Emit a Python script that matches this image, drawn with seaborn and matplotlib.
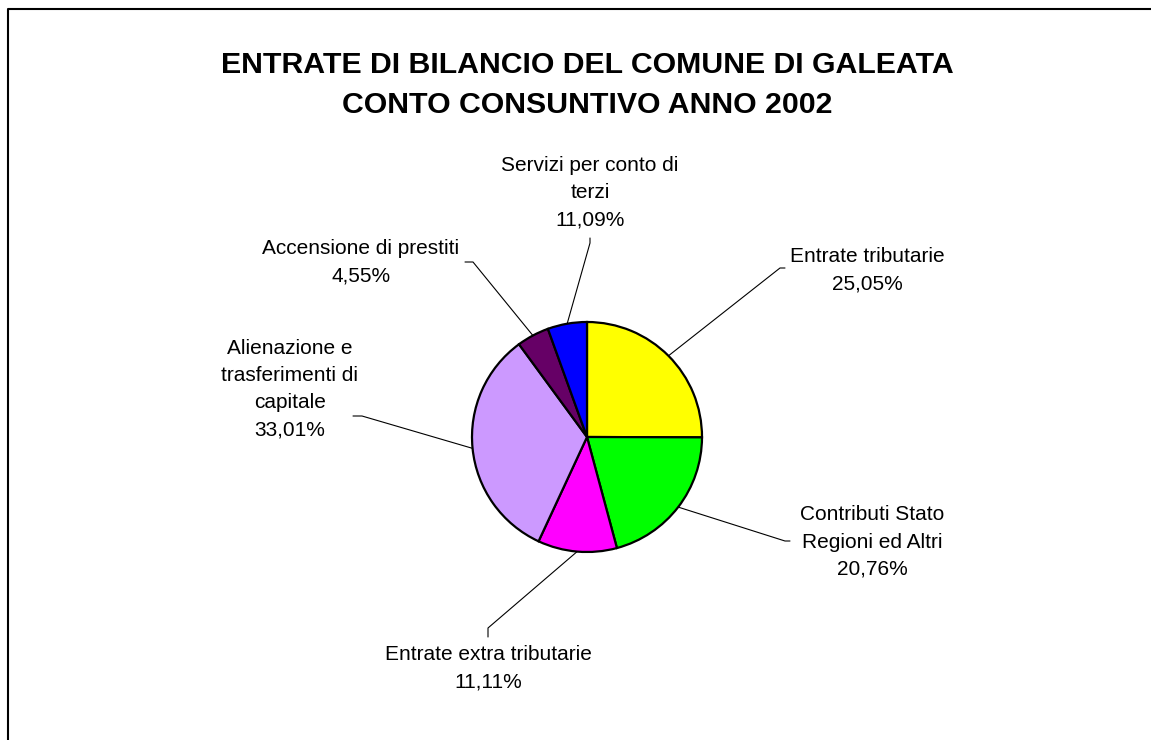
import matplotlib
matplotlib.use("Agg")
import matplotlib.pyplot as plt
import seaborn as sns
import numpy as np

# Slice sizes as drawn in the chart (clockwise from 12 o'clock)
categories = [
    "Entrate tributarie",
    "Contributi Stato\nRegioni ed Altri",
    "Entrate extra tributarie",
    "Alienazione e\ntrasferimenti di\ncapitale",
    "Accensione di prestiti",
    "Servizi per conto di\nterzi",
]
values = [25.05, 20.76, 11.11, 33.01, 4.55, 5.52]
pct_labels = ["25,05%", "20,76%", "11,11%", "33,01%", "4,55%", "11,09%"]
colors = ["#FFFF00", "#00FF00", "#FF00FF", "#CC99FF", "#660066", "#0000FF"]

# Label anchor (text centre) and leader-line elbow, in pixel space (y down)
label_pos = [(867, 270), (872, 542), (488, 668), (290, 389), (361, 262), (590, 193)]
elbows = [
    [(780, 268), (785, 268)],
    [(785, 541), (790, 541)],
    [(488, 628), (488, 637)],
    [(362, 416), (353, 416)],
    [(473, 262), (465, 262)],
    [(590, 243), (590, 238)],
]

W, H = 1151, 740
sns.set_theme(style="white")
plt.rcParams["font.family"] = ["Liberation Sans", "DejaVu Sans"]
plt.rcParams["text.color"] = "black"

fig = plt.figure(figsize=(W / 100, H / 100), dpi=100)
ax = fig.add_axes([0, 0, 1, 1])

cx, cy, r = 587, H - 437, 115
wedges, _ = ax.pie(
    values,
    colors=colors,
    startangle=90,
    counterclock=False,
    center=(cx, cy),
    radius=r,
    wedgeprops=dict(edgecolor="black", linewidth=1.6),
    frame=True,
)
ax.set_xlim(0, W)
ax.set_ylim(0, H)
ax.set_aspect("equal")
ax.axis("off")

for w, cat, pct, (lx, ly), elb in zip(wedges, categories, pct_labels, label_pos, elbows):
    theta = np.deg2rad((w.theta1 + w.theta2) / 2)
    px, py = cx + r * np.cos(theta), cy + r * np.sin(theta)
    xs = [px] + [e[0] for e in elb]
    ys = [py] + [H - e[1] for e in elb]
    ax.plot(xs, ys, color="black", linewidth=0.8)
    ax.text(lx, H - ly, cat + "\n" + pct, ha="center", va="center",
            fontsize=15, linespacing=1.55, color="black")

ax.text(587, H - 85, "ENTRATE DI BILANCIO DEL COMUNE DI GALEATA\nCONTO CONSUNTIVO ANNO 2002",
        ha="center", va="center", fontsize=21.8, fontweight="bold",
        linespacing=1.55, color="black")

# chart area border (left and top edges visible)
ax.plot([8, 8, W + 5], [-5, H - 9, H - 9], color="black", linewidth=1.5, clip_on=False)

fig.savefig("out.png", dpi=100)
